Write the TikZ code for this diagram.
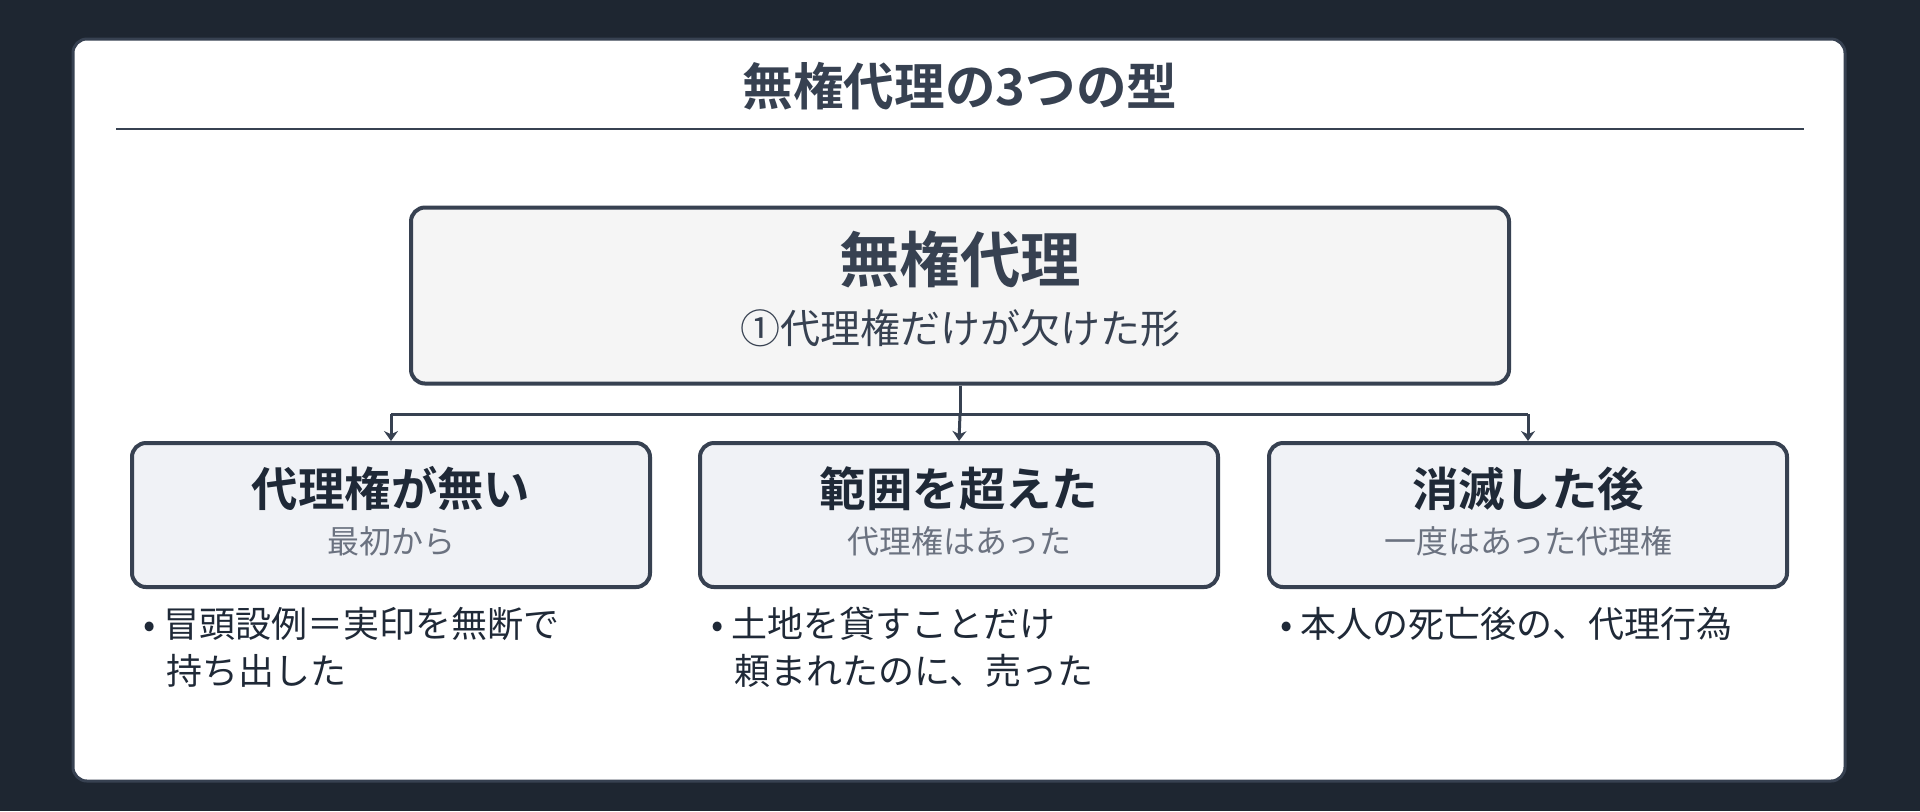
\documentclass[tikz,border=0pt]{standalone}
\usepackage{fontspec}
\newfontfamily\cjk{Noto Sans CJK JP}
\newfontfamily\cjkb{Noto Sans CJK JP Bold}
\usetikzlibrary{arrows.meta}
\definecolor{bgdark}{HTML}{1E2631}
\definecolor{ink}{HTML}{374151}
\definecolor{inkdark}{HTML}{1F2937}
\definecolor{subgray}{HTML}{6B7280}
\definecolor{mainfill}{HTML}{F5F5F5}
\definecolor{childfill}{HTML}{F0F2F6}
\begin{document}
\begin{tikzpicture}[x=0.5pt, y=-0.5pt]
\tikzstyle{every node} = [inner sep=0, font=\cjk]
\tikzstyle{mainbox} = [draw=ink, line width=2pt, fill=mainfill, rounded corners=7pt, minimum width=549pt, minimum height=88pt]
\tikzstyle{childbox} = [draw=ink, line width=2pt, fill=childfill, rounded corners=7pt, minimum width=259pt, minimum height=72pt]
\tikzstyle{edge} = [draw=ink, line width=1.5pt]
\tikzstyle{arrowedge} = [edge, -{Stealth[length=5pt, width=7pt]}]
\tikzstyle{bullet} = [anchor=north west, align=left, text=inkdark, font=\cjk\fontsize{18}{23.3}\selectfont]
\fill[bgdark] (0,0) rectangle (1920,811);
\useasboundingbox (0,0) rectangle (1920,811);
\fill[white, draw=ink, line width=1.5pt, rounded corners=7pt] (73,39) rectangle (1845,781);
\node[text=ink, font=\cjkb\fontsize{25.3}{28}\selectfont] (title) at (960,86) {無権代理の3つの型};
\draw[ink, line width=1pt] (116,129) -- (1804,129);
\node[mainbox] (main) at (960,295.5) {};
\node[text=ink, font=\cjkb\fontsize{30.2}{34}\selectfont] (maint) at (960,259) {無権代理};
\node[text=ink, font=\cjk\fontsize{20}{24}\selectfont] (mains) at (960,328) {①代理権だけが欠けた形};
\node[childbox] (none) at (391,515) {};
\node[childbox] (over) at (959,515) {};
\node[childbox] (after) at (1528,515) {};
\node[text=inkdark, font=\cjkb\fontsize{23.2}{26}\selectfont] (nonet) at (391,489) {代理権が無い};
\node[text=inkdark, font=\cjkb\fontsize{23.2}{26}\selectfont] (overt) at (959,489) {範囲を超えた};
\node[text=inkdark, font=\cjkb\fontsize{23.2}{26}\selectfont] (aftert) at (1528,489) {消滅した後};
\node[text=subgray, font=\cjk\fontsize{16}{18}\selectfont] (nones) at (391,541) {最初から};
\node[text=subgray, font=\cjk\fontsize{16}{18}\selectfont] (overs) at (959,541) {代理権はあった};
\node[text=subgray, font=\cjk\fontsize{16}{18}\selectfont] (afters) at (1528,541) {一度はあった代理権};
\coordinate (split) at (960,414);
\coordinate (splitl) at (391,414);
\coordinate (splitr) at (1528,414);
\draw[edge] (main.south) -- (split);
\draw[edge] (splitl) -- (splitr);
\draw[arrowedge] (splitl) -- (none.north);
\draw[arrowedge] (split) -- (over.north);
\draw[arrowedge] (splitr) -- (after.north);
\node[bullet] (noneb) at (143,607) {•\hspace{4pt}冒頭設例＝実印を無断で\\\hspace{11.5pt}持ち出した};
\node[bullet] (overb) at (711,607) {•\hspace{4pt}土地を貸すことだけ\\\hspace{11.5pt}頼まれたのに、売った};
\node[bullet] (afterb) at (1280,607) {•\hspace{4pt}本人の死亡後の、代理行為};
\end{tikzpicture}
\end{document}
